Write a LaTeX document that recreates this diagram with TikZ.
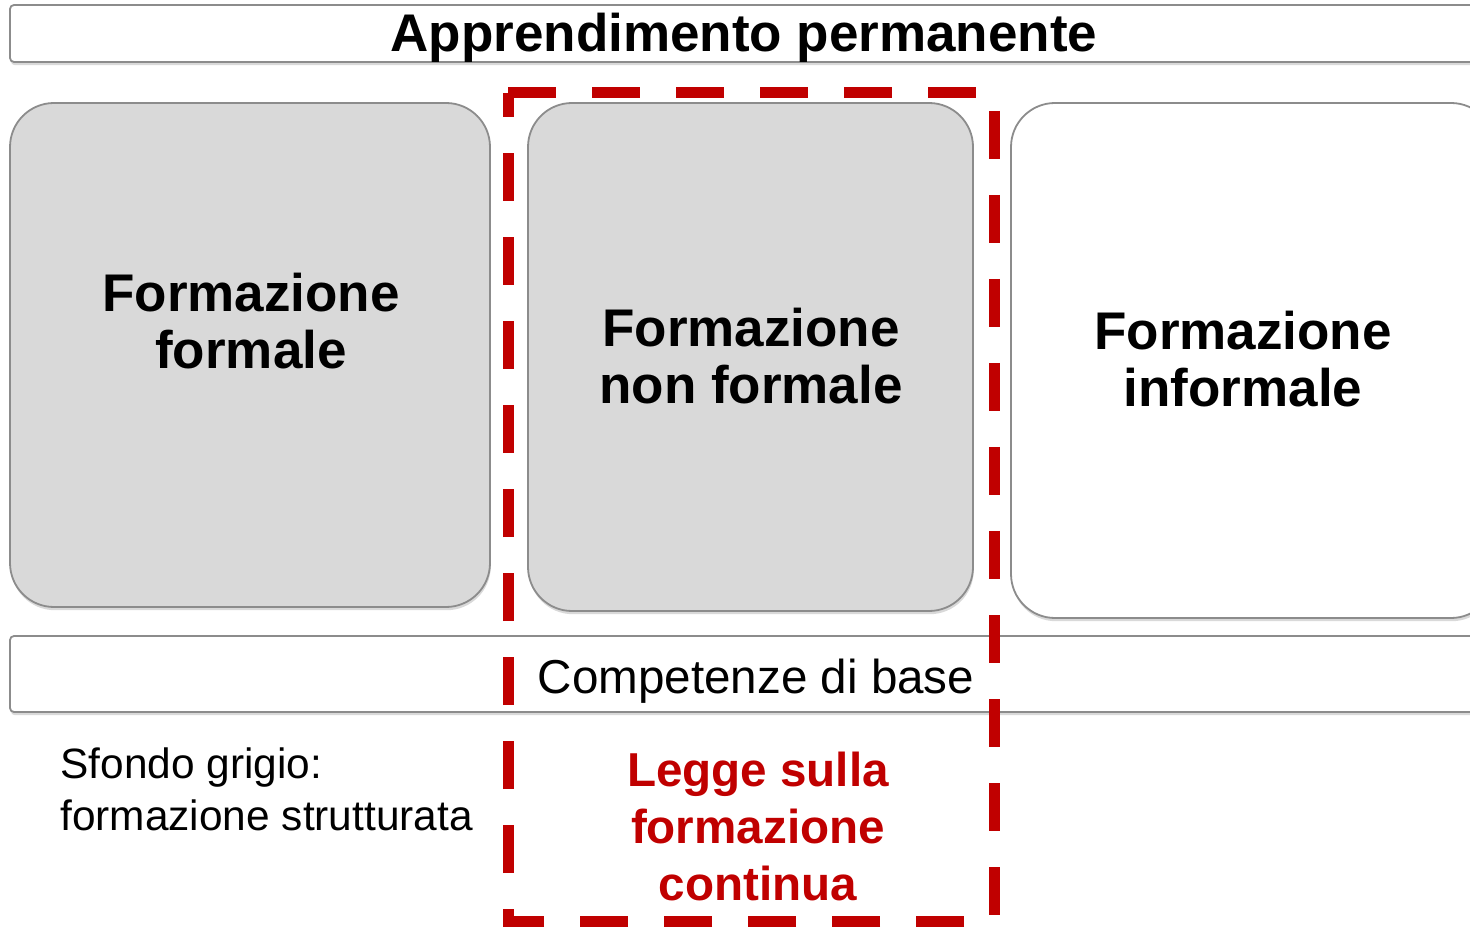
\documentclass[tikz,border=0pt]{standalone}
\usepackage{fontspec}
\setmainfont{Liberation Sans}
\usepackage{xcolor}
\usetikzlibrary{shadows}
\definecolor{boxgray}{HTML}{D9D9D9}
\definecolor{edgegray}{HTML}{8C8C8C}
\definecolor{lawred}{HTML}{C00000}

\begin{document}
\begin{tikzpicture}[x=0.5pt, y=-0.5pt,
  softshadow/.style={drop shadow={shadow xshift=0.4pt, shadow yshift=-1.6pt, opacity=0.3}},
  bar/.style={draw=edgegray, line width=0.9pt, fill=white, rounded corners=2pt, softshadow},
  block/.style={draw=edgegray, line width=0.9pt, rounded corners=22pt, softshadow},
  title/.style={font=\bfseries\fontsize{26.5}{28.5}\selectfont, align=center, inner sep=0pt}]
\useasboundingbox (0,0) rectangle (1470,929);
\clip (0,0) rectangle (1470,929);
% Top bar (lifelong learning)
\draw[bar] (10,5) rectangle (1495,62);
% The three kinds of training
\draw[block, fill=boxgray] (10,103) rectangle (490,607);
\draw[block, fill=boxgray] (528,103) rectangle (973,611);
\draw[block, fill=white] (1011,103) rectangle (1495,618);
% Bottom bar (basic skills)
\draw[bar] (10,636) rectangle (1495,712);
% Dashed frame of the law
\draw[lawred, line width=5.5pt, dash pattern=on 24pt off 18pt] (508,93) -- (994,93) -- (994,921) -- (508,921) -- cycle;
% Labels
\node[title, anchor=base] (lifelong) at (744,52) {Apprendimento permanente};
\node[title] (formal) at (251,321) {Formazione\\formale};
\node[title] (nonformal) at (751,356) {Formazione\\non formale};
\node[title] (informal) at (1243,359) {Formazione\\informale};
\node[font=\fontsize{23.8}{28}\selectfont, anchor=base, inner sep=0pt] (basic) at (756,693) {Competenze di base};
\node[font=\fontsize{21.2}{26}\selectfont, align=left, anchor=west, inner sep=0pt] (legend) at (60,789) {Sfondo grigio:\\formazione strutturata};
\node[font=\bfseries\fontsize{23.8}{28.5}\selectfont, text=lawred, align=center, inner sep=0pt] (law) at (758,826) {Legge sulla\\formazione\\continua};
\end{tikzpicture}
\end{document}
